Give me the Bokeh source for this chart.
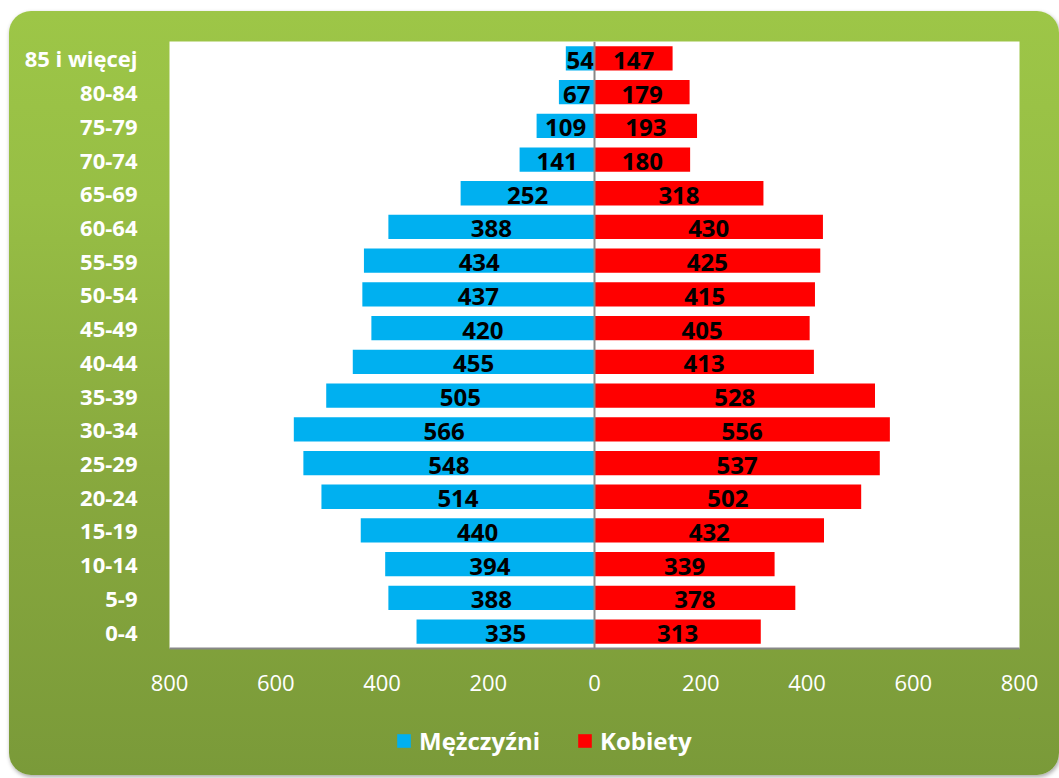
from bokeh.plotting import figure
from bokeh.layouts import column
from bokeh.models import (FactorRange, Range1d, ColumnDataSource, FixedTicker, Span,
                          Legend, LegendItem)
from bokeh.core.properties import value
from bokeh.embed import file_html
from bokeh.resources import INLINE

categories = ["0-4", "5-9", "10-14", "15-19", "20-24", "25-29", "30-34", "35-39",
              "40-44", "45-49", "50-54", "55-59", "60-64", "65-69", "70-74",
              "75-79", "80-84", "85 i więcej"]
men = [335, 388, 394, 440, 514, 548, 566, 505, 455, 420, 437, 434, 388, 252, 141, 109, 67, 54]
women = [313, 378, 339, 432, 502, 537, 556, 528, 413, 405, 415, 425, 430, 318, 180, 193, 179, 147]
x_ticks = [-800, -600, -400, -200, 0, 200, 400, 600, 800]
series_names = ["Mężczyźni", "Kobiety"]
colors = ["#00b0f0", "#ff0000"]

FONT = "Open Sans"

src = ColumnDataSource(dict(
    cat=categories,
    men_neg=[-v for v in men],
    women=women,
    men_mid=[-v / 2 for v in men],
    women_mid=[v / 2 for v in women],
    men_lbl=[str(v) for v in men],
    women_lbl=[str(v) for v in women],
))

p = figure(width=1050, height=707, y_range=FactorRange(*categories),
           x_range=Range1d(-800, 800), output_backend="svg", toolbar_location=None,
           min_border_left=160, min_border_right=40, min_border_top=30, min_border_bottom=70)
p.border_fill_alpha = 0
p.background_fill_color = "white"
p.outline_line_color = None
p.xgrid.visible = False
p.ygrid.visible = False

p.hbar(y="cat", left="men_neg", right=0, height=0.72, source=src,
       fill_color=colors[0], line_color=None)
p.hbar(y="cat", left=0, right="women", height=0.72, source=src,
       fill_color=colors[1], line_color=None)

p.add_layout(Span(location=0, dimension="height", line_color="#878787", line_width=2))

for xcol, tcol in (("men_mid", "men_lbl"), ("women_mid", "women_lbl")):
    p.text(x=xcol, y="cat", text=tcol, source=src, text_align="center",
           text_baseline="middle", text_font=value(FONT), text_font_style="bold",
           text_font_size="24px", text_color="black", y_offset=2)

p.xaxis.ticker = FixedTicker(ticks=x_ticks)
p.xaxis.major_label_overrides = {t: str(abs(t)) for t in x_ticks}
p.xaxis.major_label_text_color = "white"
p.xaxis.major_label_text_font = FONT
p.xaxis.major_label_text_font_size = "22px"
p.xaxis.major_label_standoff = 20
p.xaxis.major_tick_line_color = None
p.xaxis.minor_tick_line_color = None
p.xaxis.axis_line_color = "#878787"
p.xaxis.axis_line_width = 2

p.yaxis.major_label_text_color = "white"
p.yaxis.major_label_text_font = FONT
p.yaxis.major_label_text_font_style = "bold"
p.yaxis.major_label_text_font_size = "22px"
p.yaxis.major_label_standoff = 26
p.yaxis.major_tick_line_color = None
p.yaxis.axis_line_color = None

# legend strip
lf = figure(width=1050, height=57, x_range=Range1d(0, 1), y_range=Range1d(0, 1),
            output_backend="svg", toolbar_location=None,
            x_axis_location=None, y_axis_location=None, min_border=0)
lf.border_fill_alpha = 0
lf.background_fill_alpha = 0
lf.outline_line_color = None
lf.xgrid.visible = False
lf.ygrid.visible = False
offscreen = ColumnDataSource(dict(y=[5], l=[5], r=[6]))
rl = [lf.hbar(y="y", left="l", right="r", height=0.1, source=offscreen,
              fill_color=c, line_color=None) for c in colors]
legend = Legend(items=[LegendItem(label=n, renderers=[r]) for n, r in zip(series_names, rl)],
                orientation="horizontal", location=(226, 18),
                glyph_width=17, glyph_height=17, label_standoff=7, spacing=36,
                padding=0, margin=0, background_fill_alpha=0, border_line_color=None,
                label_text_color="white", label_text_font=FONT,
                label_text_font_style="bold", label_text_font_size="24px")
lf.add_layout(legend)

layout = column(p, lf, spacing=0)
layout.styles = {
    "margin-left": "9px",
    "margin-top": "11px",
    "margin-bottom": "-20px",
    "border-radius": "22px",
    "background": "linear-gradient(to bottom, #9dc647 0%, #97be45 25%, #88a93e 60%, #7a9a39 100%)",
    "box-shadow": "1px 2px 4px rgba(0,0,0,0.35)",
}

open("out.html", "w").write(file_html(layout, INLINE))
